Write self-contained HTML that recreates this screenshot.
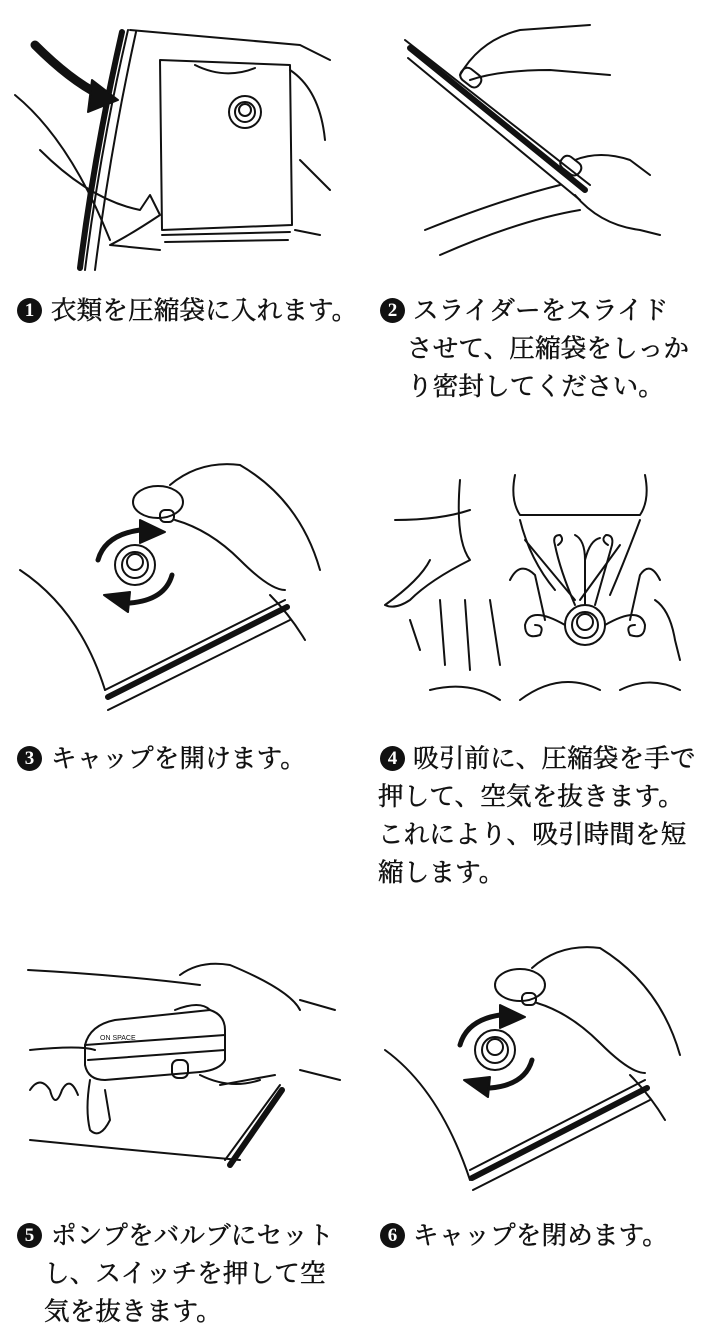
<!DOCTYPE html>
<html><head><meta charset="utf-8">
<style>
html,body{margin:0;padding:0;background:#fff;}
body{width:712px;height:1343px;position:relative;overflow:hidden;font-family:"Liberation Serif","Noto Serif CJK JP","Noto Serif CJK SC",serif;color:#111;}
.t{position:absolute;font-size:25.5px;line-height:38px;white-space:nowrap;letter-spacing:0.2px;-webkit-text-stroke:0.5px #111;}
.n{position:absolute;width:25px;height:25px;border-radius:50%;background:#111;color:#fff;font-family:"Liberation Serif",serif;font-weight:bold;font-size:19px;line-height:25px;text-align:center;}
svg{position:absolute;left:0;top:0;}
</style></head><body>
<svg width="712" height="1343" viewBox="0 0 712 1343" fill="none" stroke="#111" stroke-width="2" stroke-linecap="round" stroke-linejoin="round">
<path d="M130 30 L300 45 L330 60 M128 30 Q100 150 85 270" />
<path d="M122 32 Q95 150 80 268" stroke-width="6"/>
<path d="M136 32 Q110 150 95 270" />
<path d="M160 60 L290 65 L292 225 L162 230 Z"/>
<path d="M162 235 L290 232 M165 242 L288 240"/>
<path d="M195 65 Q225 80 255 68"/>
<path d="M290 70 Q320 90 325 140 M300 160 L330 190 M295 230 L320 235"/>
<circle cx="245" cy="112" r="16"/><circle cx="245" cy="112" r="10"/><circle cx="245" cy="110" r="6"/>
<path d="M15 95 Q70 140 110 240 M40 150 Q90 200 140 210 L150 195 L160 215 Q130 235 110 245 L160 250"/>
<path d="M35 45 Q70 80 100 95" stroke-width="9"/>
<path d="M92 80 L118 100 L88 112 Z" fill="#111"/>
<path d="M405 40 L590 185" stroke-width="2"/>
<path d="M410 48 L585 190" stroke-width="6"/>
<path d="M408 58 L580 200"/>
<path d="M460 75 Q480 40 520 30 L590 25 M470 80 Q500 70 550 70 L610 75"/>
<rect x="460" y="70" width="22" height="14" rx="6" transform="rotate(38 470 77)"/>
<rect x="560" y="158" width="22" height="14" rx="6" transform="rotate(38 570 165)"/>
<path d="M575 160 Q600 150 630 160 L650 175 M575 195 Q600 225 640 230 L660 235 M425 230 Q500 200 560 185 M440 255 Q520 220 580 210"/>
<path d="M20 570 Q80 610 105 690"/>
<path d="M105 690 L285 600 M108 710 L290 620"/>
<path d="M108 697 L287 607" stroke-width="6"/>
<path d="M270 595 Q290 615 305 640"/>
<circle cx="135" cy="565" r="20"/><circle cx="135" cy="565" r="13"/><circle cx="135" cy="562" r="8"/>
<path d="M98 560 Q105 535 140 530" stroke-width="5"/><path d="M140 520 L165 532 L140 543 Z" fill="#111"/>
<path d="M172 575 Q165 600 130 603" stroke-width="5"/><path d="M130 592 L104 595 L128 612 Z" fill="#111"/>
<ellipse cx="158" cy="502" rx="25" ry="16"/>
<path d="M170 485 Q200 460 240 465 Q300 500 320 570 M175 520 Q210 530 240 560 Q270 590 285 590"/>
<rect x="160" y="510" width="14" height="12" rx="5"/>
<path d="M395 520 Q440 520 470 510 M460 480 Q455 540 470 560 Q430 580 410 600 Q395 610 385 605 Q420 580 430 560 M410 620 L420 650 M440 600 L445 665 M465 600 L470 670 M490 600 L500 665"/>
<path d="M515 475 Q510 500 520 515 L640 515 Q650 500 645 475 M520 520 Q530 560 555 590 M640 520 Q625 560 610 595"/>
<path d="M525 540 L575 600 M580 600 L620 545"/>
<path d="M510 580 Q520 560 535 575 L545 620 M660 580 Q650 560 640 575 L630 620 M655 600 Q670 610 675 640 L680 660"/>
<circle cx="585" cy="625" r="20"/><circle cx="585" cy="625" r="13"/><circle cx="585" cy="622" r="8"/>
<path d="M575 605 Q560 570 555 545 Q552 535 560 535 Q565 540 558 545"/>
<path d="M595 605 Q605 570 612 545 Q614 535 606 535 Q600 540 608 545"/>
<path d="M585 605 L585 560 Q585 540 575 535 M585 560 Q590 540 600 538"/>
<path d="M565 625 Q530 605 525 625 Q525 640 540 635 Q545 625 535 625"/>
<path d="M605 625 Q640 605 645 625 Q645 640 630 635 Q625 625 635 625"/>
<path d="M430 690 Q470 680 500 700 M520 700 Q560 670 600 690 M620 690 Q650 675 680 690"/>
<path d="M28 970 Q120 975 200 985 M30 1050 Q80 1045 95 1050 M30 1140 Q130 1150 240 1160 M300 1000 L335 1010 M300 1070 L340 1080"/>
<path d="M30 1090 Q40 1075 50 1090 Q55 1110 62 1090 Q70 1075 78 1095"/>
<path d="M220 1085 L275 1075 M225 1160 L280 1085"/>
<path d="M230 1165 L282 1090" stroke-width="6"/>
<path d="M85 1045 Q90 1025 115 1020 L210 1010 Q225 1015 225 1030 L225 1060 Q220 1070 200 1072 L105 1080 Q88 1080 85 1065 Z"/>
<path d="M85 1045 L225 1035"/>
<path d="M88 1060 L225 1050"/>
<path d="M90 1080 Q85 1110 90 1130 Q100 1140 110 1120 L105 1090"/>
<path d="M180 975 Q200 960 230 965 Q290 990 300 1010 M175 1010 Q200 1000 210 1010 M200 1075 Q230 1090 260 1080"/>
<rect x="172" y="1060" width="16" height="18" rx="6"/>
<text x="100" y="1040" font-size="7" fill="#111" stroke="none" font-family="Liberation Sans,sans-serif">ON SPACE</text>
<path d="M385 1050 Q440 1090 470 1180"/>
<path d="M470 1170 L645 1080 M473 1190 L650 1100"/>
<path d="M472 1178 L647 1088" stroke-width="6"/>
<path d="M630 1075 Q650 1095 665 1120"/>
<circle cx="495" cy="1050" r="20"/><circle cx="495" cy="1050" r="13"/><circle cx="495" cy="1047" r="8"/>
<path d="M460 1045 Q467 1020 500 1015" stroke-width="5"/><path d="M500 1005 L525 1017 L500 1028 Z" fill="#111"/>
<path d="M532 1060 Q525 1085 490 1088" stroke-width="5"/><path d="M490 1077 L464 1080 L488 1097 Z" fill="#111"/>
<ellipse cx="520" cy="985" rx="25" ry="16"/>
<path d="M532 968 Q560 943 600 948 Q660 985 680 1055 M537 1003 Q570 1013 600 1043 Q630 1073 645 1073"/>
<rect x="522" y="993" width="14" height="12" rx="5"/>
</svg>
<div class="n" style="left:17px;top:298px">1</div>
<div class="n" style="left:380px;top:298px">2</div>
<div class="n" style="left:17px;top:746px">3</div>
<div class="n" style="left:380px;top:746px">4</div>
<div class="n" style="left:17px;top:1223px">5</div>
<div class="n" style="left:380px;top:1223px">6</div>
<div class="t" style="left:51px;top:292px">衣類を圧縮袋に入れます。</div>
<div class="t" style="left:413px;top:292px">スライダーをスライド</div>
<div class="t" style="left:407px;top:330px">させて、圧縮袋をしっか<br>り密封してください。</div>
<div class="t" style="left:51px;top:740px">キャップを開けます。</div>
<div class="t" style="left:413px;top:740px">吸引前に、圧縮袋を手で</div>
<div class="t" style="left:378px;top:778px">押して、空気を抜きます。<br>これにより、吸引時間を短<br>縮します。</div>
<div class="t" style="left:51px;top:1217px">ポンプをバルブにセット</div>
<div class="t" style="left:44px;top:1255px">し、スイッチを押して空<br>気を抜きます。</div>
<div class="t" style="left:413px;top:1217px">キャップを閉めます。</div>
</body></html>
